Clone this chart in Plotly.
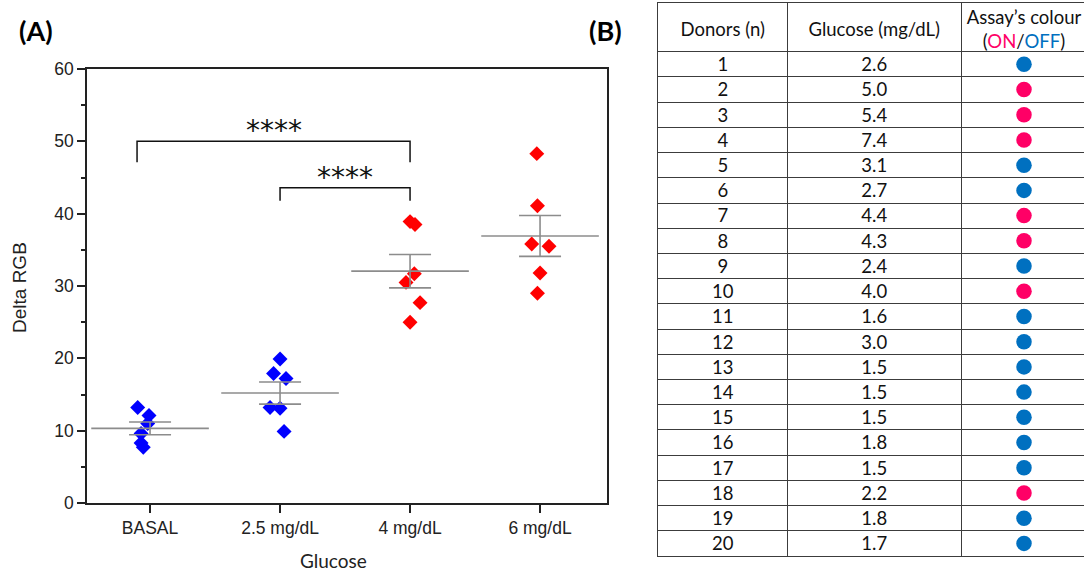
import numpy as np
import plotly.graph_objects as go

# ---------------- Panel A data ----------------
groups = ["BASAL", "2.5 mg/dL", "4 mg/dL", "6 mg/dL"]
basal = [13.2, 12.1, 11.0, 9.6, 8.3, 7.7]
glu_25 = [19.9, 17.9, 17.2, 13.2, 13.1, 9.9]
glu_4 = [38.9, 38.5, 31.7, 30.5, 27.7, 25.0]
glu_6 = [48.3, 41.1, 35.8, 35.5, 31.8, 29.0]
# horizontal jitter of each replicate (category units)
jitter_basal = [-0.095, -0.008, -0.018, -0.069, -0.069, -0.052]
jitter_25 = [0.0, -0.05, 0.046, -0.077, 0.0, 0.031]
jitter_4 = [0.0, 0.038, 0.033, -0.031, 0.077, 0.0]
jitter_6 = [-0.025, -0.02, -0.064, 0.069, 0.0, -0.02]
group_colors = ["#0000FF", "#0000FF", "#FF0000", "#FF0000"]

# significance comparisons: (from, to, bracket height, drop, label)
comparisons = [
    ("BASAL", "4 mg/dL", 50.0, 2.9, "****"),
    ("2.5 mg/dL", "4 mg/dL", 43.6, 1.8, "****"),
]

# ---------------- Panel B data ----------------
donors = list(range(1, 21))
glucose_mgdl = [2.6, 5.0, 5.4, 7.4, 3.1, 2.7, 4.4, 4.3, 2.4, 4.0,
                1.6, 3.0, 1.5, 1.5, 1.5, 1.8, 1.5, 2.2, 1.8, 1.7]
assay = ["OFF", "ON", "ON", "ON", "OFF", "OFF", "ON", "ON", "OFF", "ON",
         "OFF", "OFF", "OFF", "OFF", "OFF", "OFF", "OFF", "ON", "OFF", "OFF"]
ON_COLOR = "#FF0066"
OFF_COLOR = "#0070C0"

W, H = 1084, 571
AXC = "#222222"
GREY = "#8C8C8C"
ARIAL = "Liberation Sans, Arial"
TICKFONT = dict(family=ARIAL, size=17.5, color=AXC)
CALFONT = "Lato, Open Sans, sans-serif"

fig = go.Figure()

series = [basal, glu_25, glu_4, glu_6]
jitters = [jitter_basal, jitter_25, jitter_4, jitter_6]

for i, (vals, jit, col) in enumerate(zip(series, jitters, group_colors)):
    v = np.array(vals)
    mean = v.mean()
    se = v.std(ddof=1) / np.sqrt(len(v))
    # replicate points
    fig.add_trace(go.Scatter(
        x=[i + j for j in jit], y=vals, mode="markers",
        marker=dict(symbol="diamond", size=11.5, color=col, line=dict(width=0)),
        showlegend=False, xaxis="x", yaxis="y"))
    # mean line with SE error bar
    fig.add_trace(go.Scatter(
        x=[i], y=[mean], mode="markers",
        marker=dict(symbol="line-ew", size=84, color=GREY,
                    line=dict(color=GREY, width=1.6)),
        error_y=dict(type="data", array=[se], visible=True,
                     color=GREY, thickness=1.6, width=21),
        showlegend=False, xaxis="x", yaxis="y"))

# significance brackets
for a, b, h, drop, label in comparisons:
    xa = groups.index(a) - (0.1 if a == "BASAL" else 0.0)
    xb = groups.index(b)
    fig.add_trace(go.Scatter(
        x=[xa, xa, xb, xb], y=[h - drop, h, h, h - drop], mode="lines",
        line=dict(color="#111111", width=1.5),
        showlegend=False, xaxis="x", yaxis="y", hoverinfo="skip"))
    fig.add_annotation(
        x=(xa + xb) / 2, y=h, xref="x", yref="y", text=label,
        showarrow=False, yanchor="bottom", yshift=-8,
        font=dict(family="DejaVu Sans", size=28, color="#111111"))

# axis titles
fig.add_annotation(x=333 / W, y=1 - 560 / H, xref="paper", yref="paper",
                   text="Glucose", showarrow=False, xanchor="center", yanchor="middle",
                   font=dict(family=CALFONT, size=19, color="#222222"))
fig.add_annotation(x=19 / W, y=1 - 288 / H, xref="paper", yref="paper",
                   text="Delta RGB", showarrow=False, textangle=-90,
                   xanchor="center", yanchor="middle",
                   font=dict(family=ARIAL, size=19, color="#222222"))

# ---------------- Panel B table ----------------
col_widths = [129.5, 173.5, 126.0]
edges = np.concatenate([[0], np.cumsum(col_widths)])
centers = (edges[:-1] + edges[1:]) / 2
header_rows = 1.92
row_centers = [d - 0.5 for d in donors]
text_rows = [d - 0.41 for d in donors]
TFONT = dict(family=CALFONT, size=18.5, color="#111111")

headers = [
    "Donors (n)",
    "Glucose (mg/dL)",
    "Assay’s colour<br>(<span style='color:%s'>ON</span>/<span style='color:%s'>OFF</span>)"
    % (ON_COLOR, OFF_COLOR),
]
fig.add_trace(go.Scatter(
    x=list(centers), y=[-header_rows / 2 + 0.15] * 3, text=headers, mode="text",
    textposition="middle center", textfont=TFONT,
    showlegend=False, xaxis="x2", yaxis="y2", hoverinfo="skip"))
fig.add_trace(go.Scatter(
    x=[centers[0]] * len(donors), y=text_rows, text=[str(d) for d in donors],
    mode="text", textfont=TFONT,
    showlegend=False, xaxis="x2", yaxis="y2", hoverinfo="skip"))
fig.add_trace(go.Scatter(
    x=[centers[1]] * len(donors), y=text_rows,
    text=["%.1f" % g for g in glucose_mgdl],
    mode="text", textfont=TFONT,
    showlegend=False, xaxis="x2", yaxis="y2", hoverinfo="skip"))
fig.add_trace(go.Scatter(
    x=[centers[2]] * len(donors), y=row_centers, mode="markers",
    marker=dict(symbol="circle", size=15.5,
                color=[ON_COLOR if s == "ON" else OFF_COLOR for s in assay],
                line=dict(width=0)),
    showlegend=False, xaxis="x2", yaxis="y2", hoverinfo="skip"))

# panel labels
for txt, px in [("(A)", 17), ("(B)", 587)]:
    fig.add_annotation(
        x=px / W, y=1 - 30 / H, xref="paper", yref="paper", text="<b>%s</b>" % txt,
        showarrow=False, xanchor="left", yanchor="middle",
        font=dict(family=CALFONT, size=27, color="#000000"))

LINEC = "#3C3C3C"
fig.update_layout(
    width=W, height=H,
    margin=dict(l=0, r=0, t=0, b=0, autoexpand=False),
    paper_bgcolor="white", plot_bgcolor="white",
    xaxis=dict(
        domain=[87 / W, 607 / W], range=[-0.485, 3.515], automargin=False,
        tickmode="array", tickvals=list(range(len(groups))), ticktext=groups,
        ticks="outside", ticklen=8, tickwidth=1.5, tickcolor=AXC,
        showline=True, linewidth=1.5, linecolor=AXC, mirror=True,
        showgrid=False, zeroline=False, tickfont=TICKFONT,
    ),
    yaxis=dict(
        domain=[1 - 503 / H, 1 - 69 / H], range=[0, 60], automargin=False,
        tickmode="linear", tick0=0, dtick=10,
        ticks="outside", ticklen=8, tickwidth=1.5, tickcolor=AXC,
        minor=dict(dtick=5, ticks="outside", ticklen=4, tickwidth=1.5, tickcolor=AXC),
        showline=True, linewidth=1.5, linecolor=AXC, mirror=True,
        showgrid=False, zeroline=False, tickfont=TICKFONT,
    ),
    xaxis2=dict(
        domain=[658 / W, 1.0], range=[0, W - 658], anchor="y2", automargin=False,
        tickmode="array", tickvals=list(edges[1:]), showticklabels=False, ticks="",
        showgrid=True, gridcolor=LINEC, gridwidth=1.3,
        showline=True, linecolor=LINEC, linewidth=1.3, mirror=True,
        zeroline=False,
    ),
    yaxis2=dict(
        domain=[1 - 556 / H, 1 - 3.3 / H], range=[len(donors), -header_rows], anchor="x2",
        automargin=False,
        tickmode="array", tickvals=list(range(0, len(donors))), showticklabels=False,
        ticks="", showgrid=True, gridcolor=LINEC, gridwidth=1.3,
        showline=True, linecolor=LINEC, linewidth=1.3, mirror=True,
        zeroline=False,
    ),
)

fig.write_html("out.html")
